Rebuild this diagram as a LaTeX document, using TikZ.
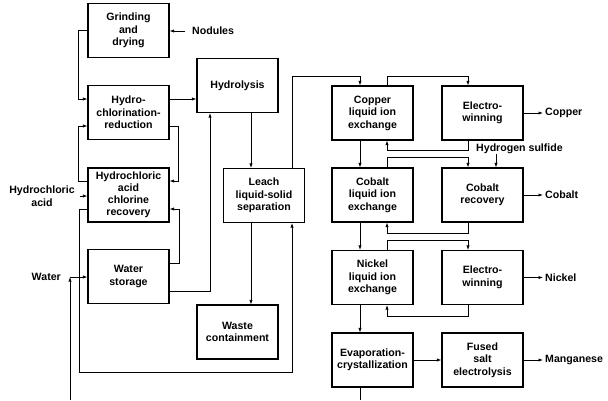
\documentclass[tikz,border=0pt]{standalone}
\usepackage{fontspec}
\setmainfont{Liberation Sans}
\usetikzlibrary{arrows.meta}
\begin{document}
\begin{tikzpicture}[x=1pt,y=-1pt,
 box/.style={draw, line width=1.1pt, minimum width=81pt, minimum height=54pt, align=center, inner sep=0pt, font=\bfseries\fontsize{10.6}{12.5}\selectfont},
 lbl/.style={align=center, inner sep=0pt, font=\bfseries\fontsize{10.6}{12.5}\selectfont},
 conn/.style={line width=0.7pt, -{Latex[length=4.5pt,width=3.2pt]}},
 plain/.style={line width=0.7pt}]
\useasboundingbox (0,0) rectangle (608,400);
% boxes
\node[box] (grind) at (128.5,30.5) {Grinding\\and\\drying};
\node[box] (hcr) at (128.5,112.5) {Hydro-\\chlorination-\\reduction};
\node[box, font=\bfseries\fontsize{10.6}{12}\selectfont] (hclr) at (128.5,195) {Hydrochloric\\acid\\chlorine\\recovery};
\node[box] (water) at (128.5,276.5) {Water\\storage};
\node[box] (hyd) at (237.5,85.5) {Hydrolysis};
\node[box] (leach) at (264,195.5) {Leach\\liquid-solid\\separation};
\node[box] (waste) at (237.5,332) {Waste\\containment};
\node[box] (cu) at (372.5,113) {Copper\\liquid ion\\exchange};
\node[box] (ew1) at (482.5,113) {Electro-\\winning};
\node[box] (co) at (372.5,195) {Cobalt\\liquid ion\\exchange};
\node[box] (cor) at (482.5,195) {Cobalt\\recovery};
\node[box] (ni) at (372.5,277.5) {Nickel\\liquid ion\\exchange};
\node[box] (ew2) at (482.5,277.5) {Electro-\\winning};
\node[box] (evap) at (372.5,360) {Evaporation-\\crystallization};
\node[box] (fused) at (482.5,360) {Fused\\salt\\electrolysis};
% labels
\node[lbl, anchor=west] (nod) at (192,31) {Nodules};
\node[lbl] (hcla) at (42,196) {Hydrochloric\\acid};
\node[lbl, anchor=east] (wat) at (61,277) {Water};
\node[lbl, anchor=west] (lcu) at (545,113) {Copper};
\node[lbl, anchor=west] (lco) at (545,195) {Cobalt};
\node[lbl, anchor=west] (lni) at (545,277.5) {Nickel};
\node[lbl, anchor=west] (lmn) at (545,360) {Manganese};
\node[lbl, anchor=west] (h2s) at (476,149) {Hydrogen sulfide};
\coordinate (bot1) at (360,400);
\coordinate (bot2) at (70,400);
\coordinate (wj) at (70,277);
% connectors left
\draw[conn] ([xshift=-7pt]nod.west) -- (grind.east |- nod.west);
\draw[conn] (grind.west) -- (78,30.5) |- (hcr.west |- 0,99);
\draw[conn] (hcr.east |- 0,99) -- (hyd.west |- 0,99);
\draw[conn] (hclr.west |- 0,181) -- (78,181) |- (hcr.west |- 0,126);
\draw[conn] (hcr.east |- 0,126) -- (178,126) |- (hclr.east |- 0,181);
\draw[conn] ([xshift=5pt]hcla.east) -- (hclr.west |- hcla.east);
\draw[conn] (hclr.west |- 0,209) -- (79,209) -- (79,372) -| (292,0 |- leach.south);
\draw[conn] (water.east |- 0,263) -- (179,263) |- (hclr.east |- 0,209);
\draw[conn] (water.east |- 0,291) -| (210,0 |- hyd.south);
\draw[conn] (251,0 |- hyd.south) -- (251,0 |- leach.north);
\draw[conn] (292,0 |- leach.north) -- (292,76) -| (360,0 |- cu.north);
\draw[conn] (251,0 |- leach.south) -- (251,0 |- waste.north);
\draw[conn] (bot2) -- (wj);
\draw[conn] (wj) -- (water.west |- wj);
% connectors right
\draw[conn] (387,0 |- cu.north) -- (387,76) -| (468,0 |- ew1.north);
\draw[conn] (468,0 |- ew1.south) -- (468,150) -| (387,0 |- cu.south);
\draw[conn] (360,0 |- cu.south) -- (360,0 |- co.north);
\draw[conn] (496,0 |- h2s.south) -- (496,0 |- cor.north);
\draw[conn] (387,0 |- co.north) -- (387,157) -| (468,0 |- cor.north);
\draw[conn] (468,0 |- cor.south) -- (468,233) -| (387,0 |- co.south);
\draw[conn] (360,0 |- co.south) -- (360,0 |- ni.north);
\draw[conn] (387,0 |- ni.north) -- (387,240) -| (468,0 |- ew2.north);
\draw[conn] (468,0 |- ew2.south) -- (468,316) -| (387,0 |- ni.south);
\draw[conn] (360,0 |- ni.south) -- (360,0 |- evap.north);
\draw[conn] (evap.east) -- (fused.west);
\draw[conn] (fused.east) -- ([xshift=-2pt]lmn.west);
\draw[conn] (ew1.east) -- ([xshift=-2pt]lcu.west);
\draw[conn] (cor.east) -- ([xshift=-2pt]lco.west);
\draw[conn] (ew2.east) -- ([xshift=-2pt]lni.west);
\draw[plain] (360,0 |- evap.south) -- (bot1);
\end{tikzpicture}
\end{document}
